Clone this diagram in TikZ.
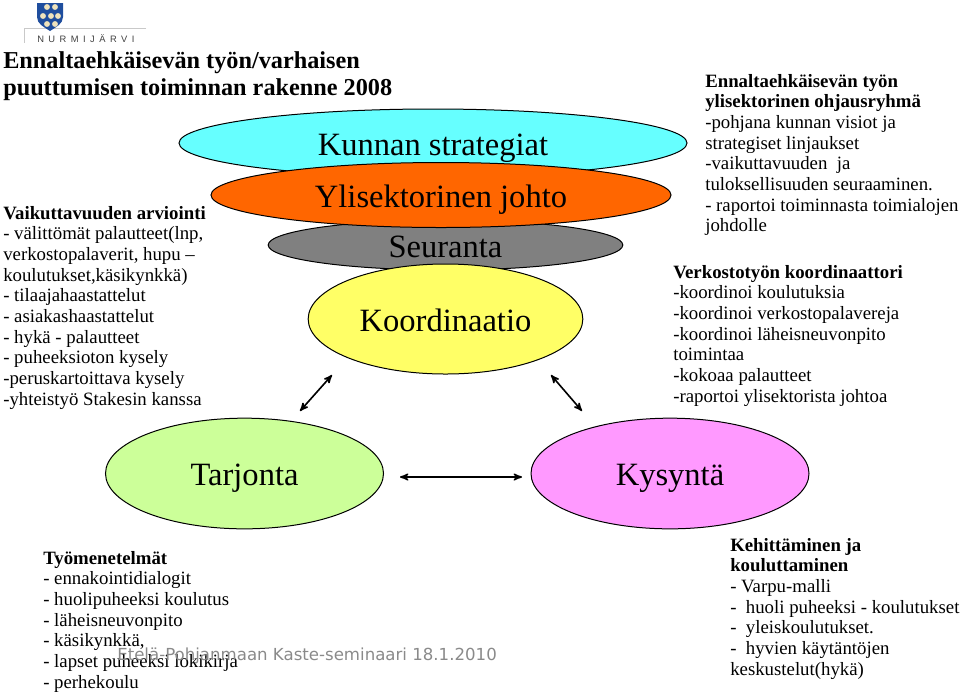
\documentclass[tikz,border=0pt]{standalone}
\usepackage{fontspec}
\setmainfont{Liberation Serif}
\newfontfamily\logofont[LetterSpace=48]{Liberation Sans}
\newfontfamily\footfont{DejaVu Sans}
\usepackage{xcolor}
\usepackage{tikz}
\usetikzlibrary{arrows}
\usetikzlibrary{shapes.geometric}
\definecolor{shieldblue}{HTML}{1F4E9E}
\definecolor{shielddot}{HTML}{EFE3BC}
\definecolor{logogray}{HTML}{C9C9C9}
\definecolor{footgray}{HTML}{8A8A8A}
\tikzset{
 level/.style={ellipse, draw=black, line width=.75pt, inner sep=0, text height=18pt, text depth=0pt, font=\fontsize{24.4}{28}\selectfont},
 infotext/.style={anchor=north west, inner sep=0, align=left, font=\fontsize{14.1}{15.5}\selectfont},
 biarrow/.style={black, line width=1.2pt, <->, >=stealth'}
}

\begin{document}
\begin{tikzpicture}[x=.75pt,y=-.75pt]
\useasboundingbox (0,0) rectangle (960,694);
\draw[logogray] (146,28) -- (24,28) -- (24,43);
\fill[shieldblue] (37,3) -- (63,3) -- (63,17) .. controls (63,24) and (56,27) .. (50,31) .. controls (44,27) and (37,24) .. (37,17) -- cycle;
\foreach \x/\y in {47/7,55/7,43/16,51/16,58/16,47/24,55/24} {
 \fill[shielddot] (\x,\y) circle (2.2pt);
};
\node[anchor=base west, inner sep=0, text=black!75, font=\logofont\fontsize{7}{8}\selectfont] (logoname) at (37,42) {NURMIJÄRVI};
\node[infotext, font=\bfseries\fontsize{18.2}{20.3}\selectfont] (title) at (3,51) {Ennaltaehkäisevän työn/varhaisen\\puuttumisen toiminnan rakenne 2008};
\node[level, fill={rgb,255:red,102;green,255;blue,255}, minimum width=381pt, minimum height=51pt] (kunnan) at (433,143) {Kunnan strategiat};
\node[level, fill=gray, minimum width=266pt, minimum height=37.5pt] (seuranta) at (445.5,245) {Seuranta};
\node[level, fill={rgb,255:red,255;green,102;blue,0}, minimum width=345pt, minimum height=48.75pt] (johto) at (441,195) {Ylisektorinen johto};
\node[level, fill={rgb,255:red,255;green,255;blue,102}, minimum width=206pt, minimum height=82.5pt] (koordinaatio) at (445.5,319) {Koordinaatio};
\node[level, fill={rgb,255:red,204;green,255;blue,153}, minimum width=208.5pt, minimum height=83pt] (tarjonta) at (244.5,473.5) {Tarjonta};
\node[level, fill={rgb,255:red,255;green,153;blue,255}, minimum width=208.5pt, minimum height=83pt] (kysynta) at (670,473.5) {Kysyntä};
\coordinate (koordleft) at (332,375);
\coordinate (tarjtop) at (300,411);
\coordinate (koordright) at (551,375);
\coordinate (kystop) at (582,411);
\coordinate (tarjright) at (400,477);
\coordinate (kysleft) at (522,477);
\draw[biarrow] (koordleft) -- (tarjtop);
\draw[biarrow] (koordright) -- (kystop);
\draw[biarrow] (tarjright) -- (kysleft);
\node[infotext] (arviointi) at (3,206) {\textbf{Vaikuttavuuden arviointi}\\- välittömät palautteet(lnp,\\verkostopalaverit, hupu --\\koulutukset,käsikynkkä)\\- tilaajahaastattelut\\- asiakashaastattelut\\- hykä - palautteet\\- puheeksioton kysely\\-peruskartoittava kysely\\-yhteistyö Stakesin kanssa};
\node[infotext] (ohjausryhma) at (705,74) {\textbf{Ennaltaehkäisevän työn}\\\textbf{ylisektorinen ohjausryhmä}\\-pohjana kunnan visiot ja\\strategiset linjaukset\\-vaikuttavuuden\ \ ja\\tuloksellisuuden seuraaminen.\\- raportoi toiminnasta toimialojen\\johdolle};
\node[infotext] (koordinaattori) at (673,265) {\textbf{Verkostotyön koordinaattori}\\-koordinoi koulutuksia\\-koordinoi verkostopalavereja\\-koordinoi läheisneuvonpito\\toimintaa\\-kokoaa palautteet\\-raportoi ylisektorista johtoa};
\node[infotext] (tyomenetelmat) at (43,551) {\textbf{Työmenetelmät}\\- ennakointidialogit\\- huolipuheeksi koulutus\\- läheisneuvonpito\\- käsikynkkä,\\- lapset puheeksi lokikirja\\- perhekoulu};
\node[infotext] (kehittaminen) at (730,538) {\textbf{Kehittäminen ja}\\\textbf{kouluttaminen}\\- Varpu-malli\\-\ \ huoli puheeksi - koulutukset\\-\ \ yleiskoulutukset.\\-\ \ hyvien käytäntöjen\\keskustelut(hykä)};
\node[anchor=base west, inner sep=0, text=footgray, font=\footfont\fontsize{12.45}{14}\selectfont] (seminaari) at (117,660) {Etelä-Pohjanmaan Kaste-seminaari 18.1.2010};
\end{tikzpicture}
\end{document}
